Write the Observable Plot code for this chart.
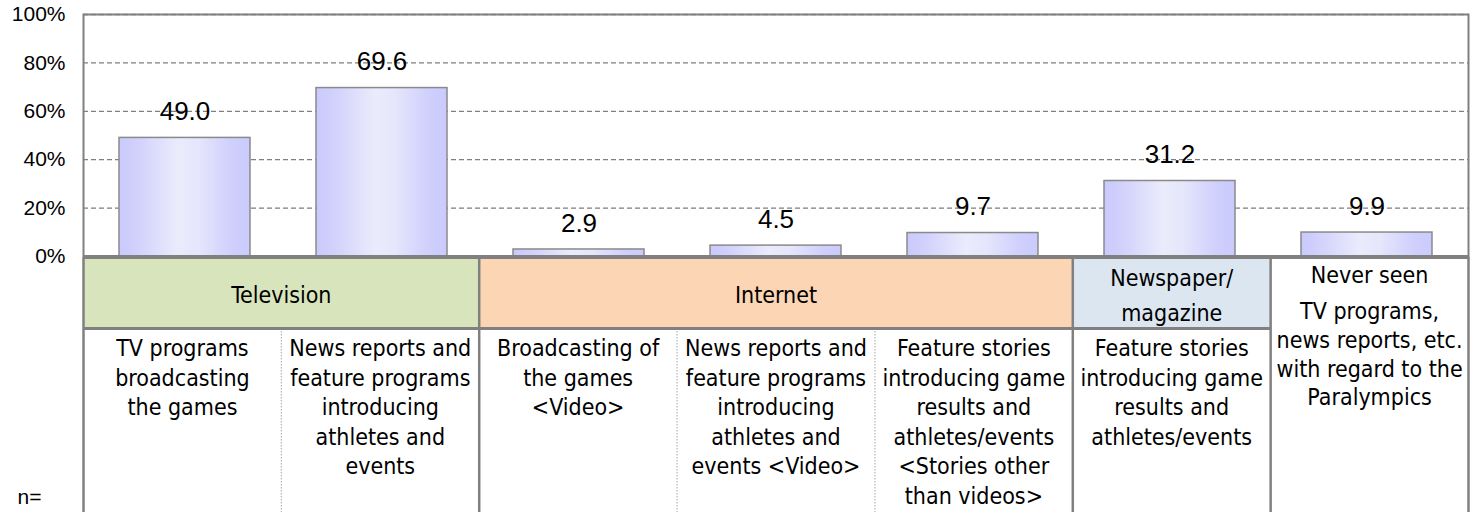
<!DOCTYPE html>
<html><head><meta charset="utf-8">
<script src="https://cdn.jsdelivr.net/npm/d3@7"></script>
<script src="https://cdn.jsdelivr.net/npm/@observablehq/plot@0.6"></script>
<style>
html,body{margin:0;padding:0;background:#fff;}
#chart svg,#table svg{display:block;}
</style></head><body>
<div id="chart"></div><div id="table"></div>
<script>
// ---- data ----
const categories = [
  "TV programs\nbroadcasting\nthe games",
  "News reports and\nfeature programs\nintroducing\nathletes and\nevents",
  "Broadcasting of\nthe games\n<Video>",
  "News reports and\nfeature programs\nintroducing\nathletes and\nevents <Video>",
  "Feature stories\nintroducing game\nresults and\nathletes/events\n<Stories other\nthan videos>",
  "Feature stories\nintroducing game\nresults and\nathletes/events",
  "Never seen\nTV programs,\nnews reports, etc.\nwith regard to the\nParalympics"
];
const values = [49.0, 69.6, 2.9, 4.5, 9.7, 31.2, 9.9];
const valueLabels = ["49.0", "69.6", "2.9", "4.5", "9.7", "31.2", "9.9"];
const media = ["Television", "Television", "Internet", "Internet", "Internet", "Newspaper/\nmagazine", null];
const mediaColors = ["#d8e4bc", "#fcd5b4", "#dce6f1"];
const yTicks = [0, 20, 40, 60, 80, 100];
const yTickLabels = ["0%", "20%", "40%", "60%", "80%", "100%"];
const sampleLabel = "n=";

// ---- layout ----
const W = 1478, mL = 83, mR = 10;
const tableH = 255, headH = 71;
const tableFont = "'Liberation Sans Narrow','DejaVu Sans Condensed','Liberation Sans',sans-serif";
const arial = "'Liberation Sans', Arial, sans-serif";
const fs = 23;

const data = categories.map((c, i) => ({category: c, value: values[i], label: valueLabels[i], i}));

const chart = Plot.plot({
  width: W, height: 257, marginLeft: mL, marginRight: mR, marginTop: 14, marginBottom: 1,
  style: {fontFamily: arial, fontSize: "20px", color: "#000", background: "#fff", overflow: "visible"},
  x: {domain: categories, paddingInner: 1/3, paddingOuter: 1/6, axis: null},
  y: {domain: [0, 100], axis: null},
  marks: [
    Plot.ruleY(yTicks.filter(t => t > 0), {stroke: "#7f7f7f", strokeWidth: 1.3, strokeDasharray: "5,3"}),
    Plot.barY(data, {x: "category", y: "value", fill: "url(#barGrad)", stroke: "#8a8a8a", strokeWidth: 1.5}),
    Plot.text(data, {x: "category", y: "value", text: "label", dy: -26, fontSize: 26, fontFamily: arial, fill: "#000"}),
    Plot.axisY(yTicks, {label: null, tickFormat: d => yTickLabels[yTicks.indexOf(d)], tickSize: 0, tickPadding: 18, fontSize: 21, fontFamily: arial}),
    Plot.frame({stroke: "#808080", strokeWidth: 2}),
    Plot.ruleY([0], {stroke: "#808080", strokeWidth: 3})
  ]
});
const gradStops = [[0, "#c9c9fd"], [0.15, "#d2d2fc"], [0.45, "#ebebfc"], [0.6, "#e6e6fc"], [0.85, "#d0d0fd"], [1, "#cacafd"]];
const grad = d3.select(chart).insert("defs", ":first-child").append("linearGradient")
  .attr("id", "barGrad").attr("x1", 0).attr("x2", 1).attr("y1", 0).attr("y2", 0);
gradStops.forEach(([o, c]) => grad.append("stop").attr("offset", o).attr("stop-color", c));
document.getElementById("chart").append(chart);

// ---- table below the axis ----
const runs = [];
media.forEach((m, i) => {
  if (m === null) return;
  const last = runs[runs.length - 1];
  if (last && last.name === m) last.end = i + 1;
  else runs.push({name: m, start: i, end: i + 1});
});
runs.forEach((r, k) => r.color = mediaColors[k]);
const n = categories.length;
const idx = d3.range(n);
const inner = idx.slice(1).filter(i => media[i] !== null && media[i] === media[i - 1]);
const outer = [0, ...idx.slice(1).filter(i => media[i] !== media[i - 1]), n];
const detailIdx = idx.filter(i => media[i] !== null);
const spanIdx = idx.filter(i => media[i] === null);
const splitFirst = s => [s.split("\n")[0], s.split("\n").slice(1).join("\n")];

const table = Plot.plot({
  width: W, height: tableH, marginLeft: mL, marginRight: mR, marginTop: 0, marginBottom: 0,
  style: {fontFamily: tableFont, fontSize: fs + "px", color: "#000", background: "#fff", overflow: "visible"},
  x: {domain: [0, n], axis: null},
  y: {domain: [0, tableH], range: [0, tableH], axis: null},
  marks: [
    Plot.rect(runs, {x1: "start", x2: "end", y1: 0, y2: headH, fill: "color"}),
    Plot.text(runs, {x: d => (d.start + d.end) / 2, y: headH / 2 - 1, text: "name", lineHeight: 35 / fs, fontSize: fs}),
    Plot.text(detailIdx, {x: i => i + 0.5, y: headH + 7, text: i => categories[i], lineAnchor: "top", lineHeight: 29.5 / fs, fontSize: fs}),
    Plot.text(spanIdx, {x: i => i + 0.5, y: 18, text: i => splitFirst(categories[i])[0], fontSize: fs}),
    Plot.text(spanIdx, {x: i => i + 0.5, y: 41, text: i => splitFirst(categories[i])[1], lineAnchor: "top", lineHeight: 28.8 / fs, fontSize: fs}),
    Plot.ruleX(inner, {y1: headH, y2: tableH, stroke: "#b4b4b4", strokeWidth: 1.2, strokeDasharray: "1.5,1.5"}),
    Plot.ruleY([headH], {x1: 0, x2: d3.max(runs, r => r.end), stroke: "#808080", strokeWidth: 3}),
    Plot.ruleX(outer, {y1: 0, y2: tableH, stroke: "#808080", strokeWidth: 2.5}),
    Plot.ruleY([0], {x1: 0, x2: n, stroke: "#808080", strokeWidth: 3}),
    Plot.text([sampleLabel], {frameAnchor: "bottom-left", dx: -66, dy: -9, textAnchor: "start", fontSize: 21, fontFamily: arial})
  ]
});
document.getElementById("table").append(table);
</script>
</body></html>
